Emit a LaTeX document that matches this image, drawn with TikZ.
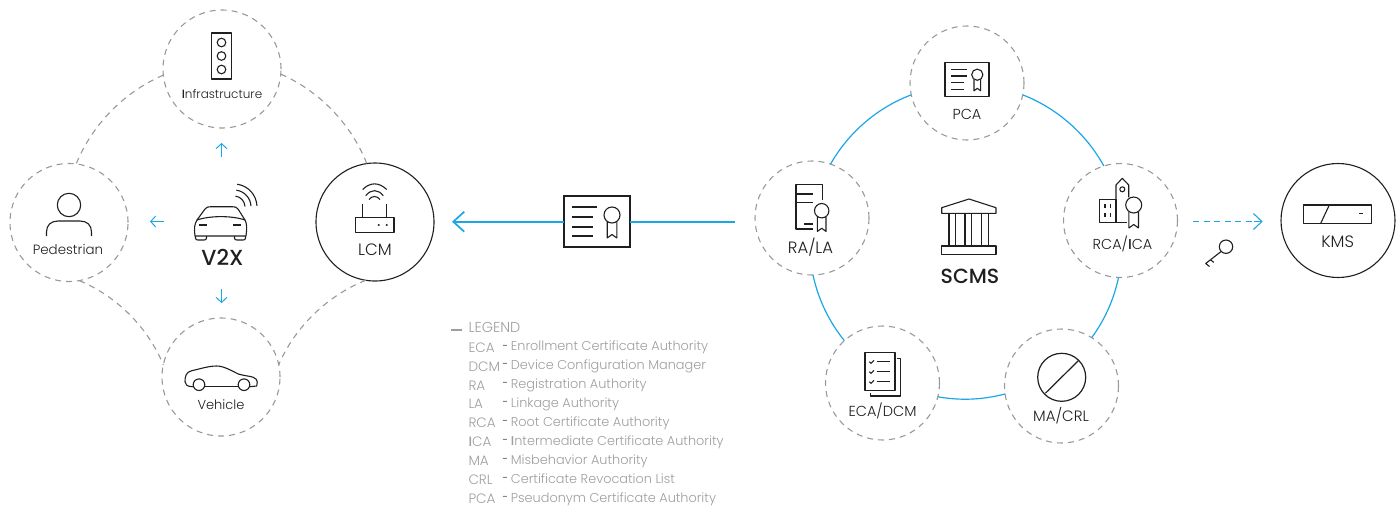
\documentclass[tikz,border=0pt]{standalone}
\usepackage{fontspec}
\setmainfont{Poppins Light}[BoldFont=Poppins Medium]
\usetikzlibrary{arrows.meta}
\definecolor{cblue}{HTML}{1BA6E6}
\definecolor{cgray}{HTML}{999999}
\definecolor{cink}{HTML}{1F1F1F}
\definecolor{clegend}{HTML}{9E9E9E}
\tikzset{
  dcirc/.style={circle,draw=cgray,line width=1.1pt,dash pattern=on 6pt off 5pt,minimum size=#1,inner sep=0pt,outer sep=0pt},
  scirc/.style={circle,draw=cink,line width=1.1pt,minimum size=#1,inner sep=0pt,outer sep=0pt},
  graylink/.style={draw=cgray,line width=1.1pt,dash pattern=on 6pt off 5pt,looseness=.87},
  bluelink/.style={draw=cblue,line width=1.2pt,looseness=.87},
  smallarrow/.style={draw=cblue,line width=1pt,-{Straight Barb[length=5pt,width=11pt]}},
  icon/.style={draw=cink,line width=1.1pt,line join=round},
  lab/.style={text=cink,font=\fontsize{#1}{#1}\selectfont,inner sep=0pt,anchor=base},
  lab/.default=14.5,
  bigl/.style={text=cink,font=\fontsize{#1}{#1}\selectfont\bfseries,inner sep=0pt,anchor=base},
  leg/.style={text=clegend,font=\fontsize{#1}{#1}\selectfont,inner sep=0pt,anchor=base west},
  leg/.default=12.85,
  seal/.pic={
    \draw[icon] (0,0) circle (8);
    \draw[icon] (-4.8,6.5) -- (-4.8,23) -- (0,19.5) -- (4.8,23) -- (4.8,6.5);
  }
}
\begin{document}
\begin{tikzpicture}[x=1pt,y=-1pt]
\useasboundingbox (0,0) rectangle (1399,507);
% left circles
\node[dcirc=118pt] (inf) at (222,69) {};
\node[dcirc=118pt] (ped) at (69,222.5) {};
\node[scirc=118pt] (lcm) at (375,222) {};
\node[dcirc=118pt] (veh) at (221,377) {};
\draw[graylink] (inf.186) to[bend right=22.5] (ped.83);
\draw[graylink] (inf.355) to[bend left=22.5] (lcm.98);
\draw[graylink] (ped.280) to[bend left=22.5] (veh.168);
\draw[graylink] (lcm.261) to[bend right=22.5] (veh.12);
% small arrows
\coordinate (ua1) at (221.5,157); \coordinate (ua2) at (221.5,143);
\coordinate (la1) at (164,221.5); \coordinate (la2) at (150,221.5);
\coordinate (da1) at (221.5,289); \coordinate (da2) at (221.5,303);
\draw[smallarrow] (ua1) -- (ua2);
\draw[smallarrow] (la1) -- (la2);
\draw[smallarrow] (da1) -- (da2);
% traffic light
\draw[icon] (211.5,33) rectangle (231.5,79);
\foreach \yy in {42.5,56,69.5} \draw[icon] (221.5,\yy) circle (4.3);
\node[lab=12] (inft) at (222,98.5) {\textbf{I}nfrastructure};
% pedestrian
\draw[icon] (69,205) circle (11.7);
\draw[icon] (46.5,236) -- (46.5,232) .. controls (46.5,225) and (51,221) .. (58,221) -- (80,221) .. controls (87,221) and (91.5,225) .. (91.5,232) -- (91.5,236);
\node[lab=13.4] (pedt) at (68,254.5) {Pedestrian};
% V2X car
\draw[icon] (195,236) .. controls (194,228) and (194.5,224) .. (197,220) -- (205,209) .. controls (206.5,207) and (208,206.7) .. (211,206.7) -- (232,206.7) .. controls (235,206.7) and (236.5,207) .. (238,209) -- (245,220) .. controls (247,224) and (247,228) .. (246,236) -- cycle;
\draw[icon] (197,220) .. controls (210,215.5) and (232,215.5) .. (245,220);
\draw[icon] (195.5,236) -- (195.5,238) .. controls (195.5,239.5) and (196.5,240) .. (198,240) -- (204,240) .. controls (205.5,240) and (206.5,239.5) .. (206.5,238) -- (206.5,236);
\draw[icon] (234.5,236) -- (234.5,238) .. controls (234.5,239.5) and (235.5,240) .. (237,240) -- (243,240) .. controls (244.5,240) and (245.5,239.5) .. (245.5,238) -- (245.5,236);
\draw[cink,line width=2.4pt] (199.3,225) -- (207.3,225) (233.3,225) -- (241.3,225);
\coordinate (sig) at (234,207);
\foreach \rr in {11,17,23} \draw[icon] ([shift={(-3:\rr)}]sig) arc[start angle=-3,end angle=-82,radius=\rr];
\node[bigl=21.8] (v2x) at (222.5,265) {V2X};
% LCM router
\draw[icon] (355.7,217.7) rectangle (394,232.3);
\draw[icon] (362.7,217.7) -- (362.7,204) (386.7,217.7) -- (386.7,204);
\fill[cink] (378.7,225) circle (1.1) (386.7,225) circle (1.1);
\draw[icon] (362.7,189.5) .. controls (370,182) and (379,182) .. (386.7,189.5);
\draw[icon] (365.7,195.7) .. controls (371,189) and (378,189) .. (383.3,195.7);
\draw[icon] (369,199.5) .. controls (372,195.5) and (377,195.5) .. (380,199.5);
\node[lab=16.5] (lcmt) at (375,255.5) {LCM};
% vehicle
\draw[icon] (193,386.7) .. controls (187,386.7) and (185,384.5) .. (185,381.7) .. controls (185,377) and (185.7,372) .. (191.7,370.7) .. controls (200,369) and (208,366) .. (216.7,366) .. controls (224,366) and (232,371) .. (238.3,374) .. controls (245,376) and (250,376) .. (253.3,377.3) .. controls (256,378.5) and (257.3,380) .. (257.3,382) -- (256.7,386) -- (250,386.7);
\draw[icon] (205,386.7) -- (238,386.7);
\draw[icon] (199,384.7) circle (5.8) (244,384.7) circle (5.8);
\node[lab=13] (veht) at (221,409.5) {Vehicle};
% certificate and main arrow
\node[draw=cink,line width=1.3pt,minimum width=66pt,minimum height=51pt,inner sep=0pt,outer sep=0pt] (cert) at (597,221.5) {};
\coordinate (ms) at (735,221.7);
\coordinate (mt) at (452,221.7);
\draw[cblue,line width=1.7pt] (ms) -- (cert.east |- ms);
\draw[cblue,line width=1.7pt,-{Straight Barb[length=11pt,width=20pt]}] (cert.west |- mt) -- (mt);
\draw[icon] (572,207) -- (597,207) (572,217) -- (593,217) (572,227) -- (593,227) (572,236) -- (593,236);
\pic at (612,215) {seal};
% legend
\draw[clegend,line width=1.2pt] (450.7,330) -- (461.7,330);
\node[leg=14.4] (lgh) at (468.3,332) {LEGEND};
\foreach \nn/\ya/\yb/\ab/\ds in {
 a/352/350.8/ECA/Enrollment Certificate Authority,
 b/371/369.7/DCM/Device Configuration Manager,
 c/390/388.5/RA/Registration Authority,
 d/408.9/407.4/LA/Linkage Authority,
 e/427.8/426.4/RCA/Root Certificate Authority,
 f/446.7/445.4/{\textbf{I}CA}/{\textbf{I}ntermediate Certificate Authority},
 g/465.7/464.4/MA/Misbehavior Authority,
 h/484.5/483.2/CRL/Certificate Revocation List,
 i/503.5/502.1/PCA/Pseudonym Certificate Authority}{
  \node[leg=13.6] (ab\nn) at (468.3,\ya) {\ab};
  \node[inner sep=0pt,text=clegend!70!black,font=\fontsize{10}{10}\selectfont\bfseries,anchor=base west] (da\nn) at (502,\yb-1.8) {-};
  \node[leg] (ds\nn) at (510.7,\yb) {\ds};
}
% right circles
\node[dcirc=114pt] (pca) at (967,83) {};
\node[dcirc=114pt] (ra) at (812,218) {};
\node[dcirc=114pt] (rca) at (1120.5,220.5) {};
\node[scirc=114pt] (kms) at (1338,220.5) {};
\node[dcirc=114pt] (eca) at (882.5,383) {};
\node[dcirc=114pt] (ma) at (1061.5,386) {};
\draw[bluelink] (pca.192) to[bend right=20] (ra.71);
\draw[bluelink] (pca.348) to[bend left=20] (rca.107);
\draw[bluelink] (ra.271) to[bend right=13.3] (eca.132.5);
\draw[bluelink] (rca.268) to[bend left=12] (ma.58);
\draw[bluelink] (eca.346) to[bend right=12.5] (ma.188);
% PCA icon
\draw[icon,line width=1.3pt] (945,62.7) rectangle (989,96.7);
\draw[icon] (951,69.3) -- (967.3,69.3) (951,76) -- (967.3,76) (951,82.7) -- (964,82.7) (951,89.3) -- (964,89.3);
\pic[scale=.7] at (977.3,74.7) {seal};
\node[lab=14.5] (pcat) at (967,119) {PCA};
% RA icon
\draw[icon] (822.3,200) -- (822.3,184.3) -- (796,184.3) -- (796,229) -- (813.3,229);
\draw[icon] (796,194) -- (812.7,194) (796,202.3) -- (812.7,202.3) (804.3,224) -- (812.7,224);
\pic[scale=.9] at (821.7,210.7) {seal};
\node[lab=16.4] (rat) at (810.5,253.5) {RA/LA};
% temple
\draw[icon] (941.7,213.3) -- (941.7,207.7) -- (969,199) -- (996,207.7) -- (996,213.3) -- cycle;
\draw[icon] (949,213.3) -- (949,246) (955.7,213.3) -- (955.7,246) (965,213.3) -- (965,246) (971.7,213.3) -- (971.7,246) (981.7,213.3) -- (981.7,246) (988.3,213.3) -- (988.3,246);
\draw[icon] (941.7,246) rectangle (996,254.3);
\node[bigl=20.5] (scms) at (970,283.3) {SCMS};
% RCA icon
\draw[icon] (1099.3,199.3) rectangle (1116,222.7);
\draw[icon] (1116,222.7) -- (1116,185) -- (1122.3,178.3) -- (1128.7,185) -- (1128.7,197.3);
\draw[icon] (1116,222.7) -- (1126.7,222.7);
\draw[icon] (1122.3,189.3) circle (2.5);
\draw[cink,line width=1.1pt] (1105,204) -- (1105,208) (1110.3,204) -- (1110.3,208) (1105,213) -- (1105,217) (1110.3,213) -- (1110.3,217);
\pic at (1133.7,205) {seal};
\node[lab=14.4] (rcat) at (1122.5,249) {RCA/\textbf{I}CA};
% dashed arrow
\coordinate (dk) at (1193,221.5);
\coordinate (dt) at (1262.7,221.5);
\draw[cblue,line width=1.1pt,dash pattern=on 6pt off 4.5pt] (dk) -- ++(60,0);
\draw[cblue,line width=1.1pt,-{Straight Barb[length=8.5pt,width=16pt]}] (1254,221.5) -- (dt);
% key
\draw[icon] (1226,246.7) circle (6.7);
\draw[icon] (1221.2,251.4) -- (1205.7,263.5) -- (1209.5,266.5) (1210.5,259.8) -- (1213.8,262.4);
% KMS icon
\draw[icon,line width=1.3pt] (1303.7,205) rectangle (1371.7,223.3);
\draw[icon] (1329.3,205) -- (1320.7,223.3);
\draw[cink,line width=1.3pt] (1359.3,213.3) -- (1363.3,213.3);
\node[lab=16.5] (kmst) at (1337.7,247) {KMS};
% ECA icon
\draw[icon] (865,352.7) rectangle (895,390.7);
\draw[icon] (897.3,358.3) -- (900.7,358.3) -- (900.7,396) -- (870.7,396) -- (870.7,392.5);
\foreach \yy in {361.7,371.7,381.7}{
  \draw[cink,line width=1pt] (869.3,\yy) -- (871,\yy+1.6) -- (874,\yy-1.4);
  \draw[cink,line width=1pt] (876.7,\yy) -- (890,\yy);
}
\node[lab=14.5] (ecat) at (882.5,416.7) {ECA/DCM};
% MA icon
\draw[icon,line width=1.2pt] (1061.7,377.3) circle (24);
\draw[icon,line width=1.2pt] (1078.3,360.7) -- (1045.3,393.3);
\node[lab=15] (mat) at (1061,421.7) {MA/CRL};
\end{tikzpicture}
\end{document}
